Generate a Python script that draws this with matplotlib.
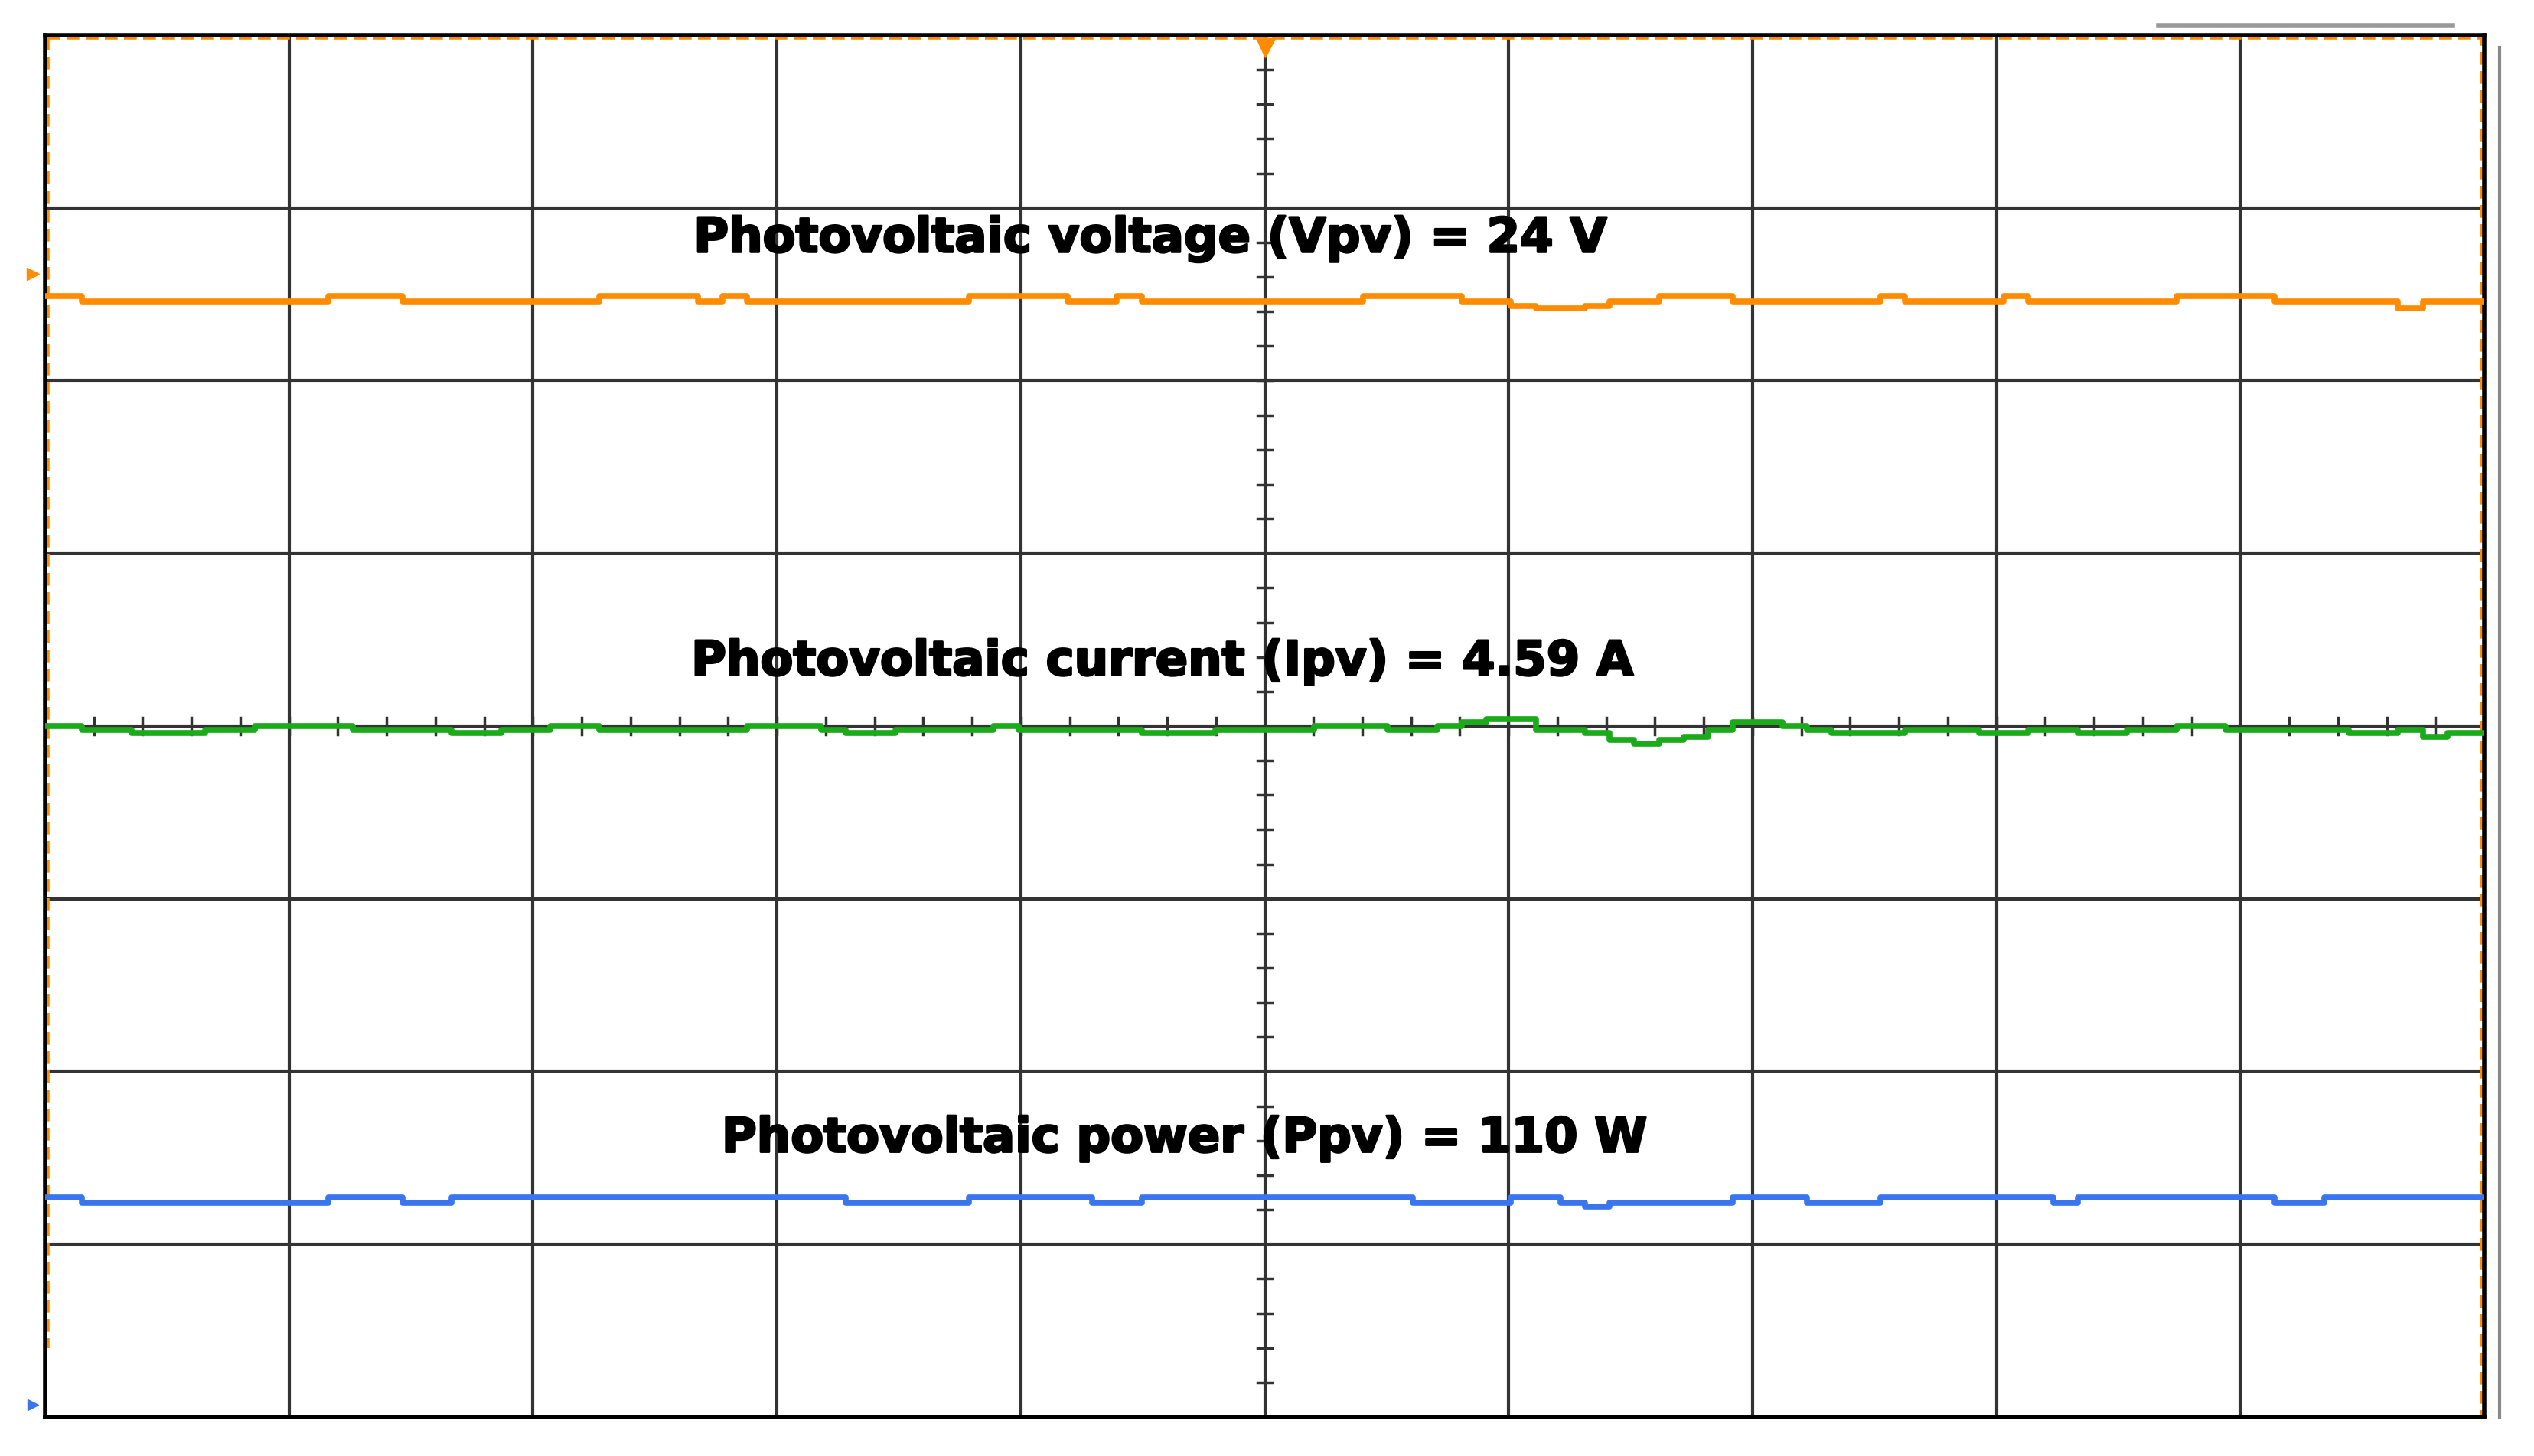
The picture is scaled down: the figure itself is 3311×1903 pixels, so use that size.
import matplotlib
matplotlib.use("Agg")
import matplotlib.pyplot as plt
import matplotlib.patheffects as pe
import numpy as np

# time axis: 10 divisions, 100 samples
t = np.linspace(0, 10, 100)

# trace levels in divisions (screen units, centre = 0)
vpv = [2.49,2.49,2.46,2.46,2.46,2.46,2.46,2.46,2.46,2.46,
       2.46,2.46,2.49,2.49,2.49,2.46,2.46,2.46,2.46,2.46,
       2.46,2.46,2.46,2.49,2.49,2.49,2.49,2.46,2.49,2.46,
       2.46,2.46,2.46,2.46,2.46,2.46,2.46,2.46,2.49,2.49,
       2.49,2.49,2.46,2.46,2.49,2.46,2.46,2.46,2.46,2.46,
       2.46,2.46,2.46,2.46,2.49,2.49,2.49,2.49,2.46,2.46,
       2.43,2.42,2.42,2.43,2.46,2.46,2.49,2.49,2.49,2.46,
       2.46,2.46,2.46,2.46,2.46,2.49,2.46,2.46,2.46,2.46,
       2.49,2.46,2.46,2.46,2.46,2.46,2.46,2.49,2.49,2.49,
       2.49,2.46,2.46,2.46,2.46,2.46,2.42,2.46,2.46,2.46]
ipv = [0.00,0.00,-0.02,-0.02,-0.04,-0.04,-0.04,-0.02,-0.02,0.00,
       0.00,0.00,0.00,-0.02,-0.02,-0.02,-0.02,-0.04,-0.04,-0.02,
       -0.02,0.00,0.00,-0.02,-0.02,-0.02,-0.02,-0.02,-0.02,0.00,
       0.00,0.00,-0.02,-0.04,-0.04,-0.02,-0.02,-0.02,-0.02,0.00,
       -0.02,-0.02,-0.02,-0.02,-0.02,-0.04,-0.04,-0.04,-0.02,-0.02,
       -0.02,-0.02,0.00,0.00,0.00,-0.02,-0.02,0.00,0.02,0.04,
       0.04,-0.02,-0.02,-0.04,-0.08,-0.10,-0.08,-0.06,-0.02,0.02,
       0.02,0.00,-0.02,-0.04,-0.04,-0.04,-0.02,-0.02,-0.02,-0.04,
       -0.04,-0.02,-0.02,-0.04,-0.04,-0.02,-0.02,0.00,0.00,-0.02,
       -0.02,-0.02,-0.02,-0.02,-0.04,-0.04,-0.02,-0.06,-0.04,-0.04]
ppv = [-2.73,-2.73,-2.76,-2.76,-2.76,-2.76,-2.76,-2.76,-2.76,-2.76,
       -2.76,-2.76,-2.73,-2.73,-2.73,-2.76,-2.76,-2.73,-2.73,-2.73,
       -2.73,-2.73,-2.73,-2.73,-2.73,-2.73,-2.73,-2.73,-2.73,-2.73,
       -2.73,-2.73,-2.73,-2.76,-2.76,-2.76,-2.76,-2.76,-2.73,-2.73,
       -2.73,-2.73,-2.73,-2.76,-2.76,-2.73,-2.73,-2.73,-2.73,-2.73,
       -2.73,-2.73,-2.73,-2.73,-2.73,-2.73,-2.76,-2.76,-2.76,-2.76,
       -2.73,-2.73,-2.76,-2.78,-2.76,-2.76,-2.76,-2.76,-2.76,-2.73,
       -2.73,-2.73,-2.76,-2.76,-2.76,-2.73,-2.73,-2.73,-2.73,-2.73,
       -2.73,-2.73,-2.76,-2.73,-2.73,-2.73,-2.73,-2.73,-2.73,-2.73,
       -2.73,-2.76,-2.76,-2.73,-2.73,-2.73,-2.73,-2.73,-2.73,-2.73]

labels = ["Photovoltaic voltage (Vpv) = 24 V",
          "Photovoltaic current (Ipv) = 4.59 A",
          "Photovoltaic power (Ppv) = 110 W"]
label_pos = [(4.53, 2.82), (4.58, 0.37), (4.67, -2.39)]

W, H = 3312, 1903
fig = plt.figure(figsize=(W/100, H/100), dpi=100)
x0, x1, y0, y1 = 59, 3246, 46, 1852
ax = fig.add_axes([x0/W, 1-y1/H, (x1-x0)/W, (y1-y0)/H])
ax.set_xlim(0, 10); ax.set_ylim(-4, 4)
ax.set_xticks([]); ax.set_yticks([])
for s in ax.spines.values():
    s.set_linewidth(4); s.set_color('black')

gc = '#333333'
for i in range(1, 10):
    ax.axvline(i, color=gc, lw=3, zorder=1)
for j in range(-3, 4):
    ax.axhline(j, color=gc, lw=3, zorder=1)
# minor ticks on centre lines
for k in range(1, 40):
    yy = -4 + k*0.2
    ax.plot([4.97, 5.03], [yy, yy], color=gc, lw=2.5, zorder=1)
for k in range(1, 50):
    xx = k*0.2
    ax.plot([xx, xx], [-0.05, 0.05], color=gc, lw=2.5, zorder=1)

ax.plot(t, vpv, color='#ff8c00', lw=5.5, drawstyle='steps-mid', zorder=3)
ax.plot(t, ipv, color='#1aaa1a', lw=5.5, drawstyle='steps-mid', zorder=3)
ax.plot(t, ppv, color='#3a75f0', lw=5.5, drawstyle='steps-mid', zorder=3)

# orange dashed frame
ax.plot([0.01, 9.99, 9.99], [3.985, 3.985, -4], color='#ff8c00', lw=4,
        ls=(0, (3, 1.5)), zorder=2, clip_on=False)
ax.plot([0.01, 0.01], [3.985, -3.6], color='#ff8c00', lw=4,
        ls=(0, (3, 1.5)), zorder=2, clip_on=False)
# trigger markers
ax.plot([5.0], [3.93], marker='v', color='#ff8c00', ms=18, zorder=4, clip_on=False)
ax.plot([-0.05], [2.62], marker='>', color='#ff8c00', ms=12, zorder=4, clip_on=False)
ax.plot([-0.05], [-3.93], marker='>', color='#3a75f0', ms=10, zorder=4, clip_on=False)

for lab, (lx, ly) in zip(labels, label_pos):
    ax.text(lx, ly, lab, ha='center', va='center', fontsize=45,
            fontweight='bold', family='DejaVu Sans', color='black', zorder=5,
            path_effects=[pe.withStroke(linewidth=2, foreground='black')])

# decorations outside the grid
fig.add_artist(plt.Line2D([3266/W, 3266/W], [1-62/H, 1-1852/H], color='#888888', lw=3))
fig.add_artist(plt.Line2D([2820/W, 3205/W], [1-33/H, 1-33/H], color='#999999', lw=4))

fig.savefig('out.png', dpi=100)
